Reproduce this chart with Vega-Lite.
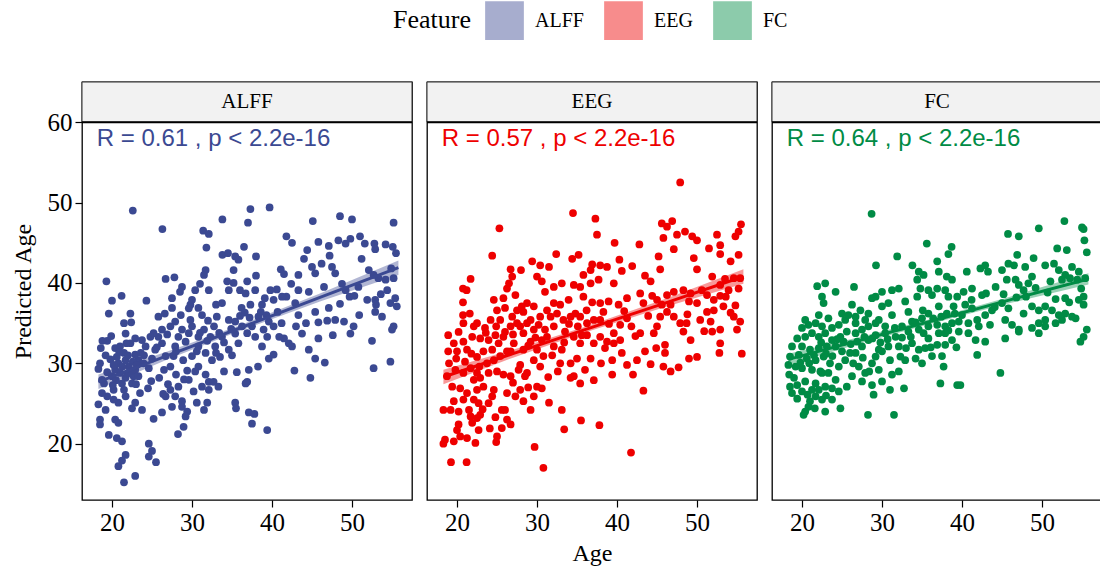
{
"$schema": "https://vega.github.io/schema/vega-lite/v6.json",
"padding": {"left": 10, "top": 1, "right": 0, "bottom": 4},
"background": "white",
"datasets": {
"alff": [{"Age":22.6,"Pred":49.0},{"Age":26.3,"Pred":46.7},{"Age":33.8,"Pred":47.9},{"Age":37.0,"Pred":47.5},{"Age":37.3,"Pred":49.2},{"Age":39.7,"Pred":49.4},{"Age":45.1,"Pred":47.7},{"Age":48.5,"Pred":48.3},{"Age":50.0,"Pred":47.9},{"Age":55.2,"Pred":47.5},{"Age":31.4,"Pred":46.5},{"Age":32.1,"Pred":46.1},{"Age":31.8,"Pred":44.4},{"Age":36.5,"Pred":44.5},{"Age":41.8,"Pred":45.8},{"Age":42.5,"Pred":45.0},{"Age":44.4,"Pred":44.1},{"Age":45.8,"Pred":45.1},{"Age":47.1,"Pred":44.6},{"Age":48.3,"Pred":45.3},{"Age":49.2,"Pred":44.9},{"Age":49.8,"Pred":45.5},{"Age":51.0,"Pred":45.8},{"Age":51.6,"Pred":44.9},{"Age":52.8,"Pred":44.9},{"Age":52.9,"Pred":44.2},{"Age":54.2,"Pred":44.8},{"Age":55.1,"Pred":44.5},{"Age":55.5,"Pred":43.7},{"Age":33.8,"Pred":43.5},{"Age":34.5,"Pred":43.7},{"Age":35.4,"Pred":43.3},{"Age":35.8,"Pred":42.9},{"Age":38.0,"Pred":43.3},{"Age":35.2,"Pred":41.6},{"Age":31.7,"Pred":41.6},{"Age":31.5,"Pred":41.0},{"Age":26.7,"Pred":40.5},{"Age":27.8,"Pred":40.7},{"Age":19.3,"Pred":40.2},{"Age":21.2,"Pred":38.4},{"Age":20.0,"Pred":37.8},{"Age":19.6,"Pred":36.2},{"Age":24.3,"Pred":37.8},{"Age":22.3,"Pred":36.2},{"Age":21.5,"Pred":35.0},{"Age":22.4,"Pred":35.1},{"Age":21.7,"Pred":33.7},{"Age":26.6,"Pred":36.2},{"Age":27.5,"Pred":38.1},{"Age":28.75,"Pred":39.5},{"Age":28.5,"Pred":38.9},{"Age":29.8,"Pred":37.3},{"Age":30.4,"Pred":39.1},{"Age":31.0,"Pred":39.9},{"Age":32.1,"Pred":39.1},{"Age":30.8,"Pred":36.9},{"Age":31.25,"Pred":36.0},{"Age":33.0,"Pred":37.3},{"Age":33.75,"Pred":37.5},{"Age":34.4,"Pred":40.2},{"Age":35.2,"Pred":40.0},{"Age":36.0,"Pred":39.1},{"Age":36.7,"Pred":38.7},{"Age":36.9,"Pred":40.2},{"Age":37.9,"Pred":39.1},{"Age":38.0,"Pred":40.9},{"Age":36.2,"Pred":36.9},{"Age":37.3,"Pred":37.3},{"Age":38.75,"Pred":37.3},{"Age":40.2,"Pred":37.9},{"Age":40.6,"Pred":39.2},{"Age":41.1,"Pred":41.7},{"Age":41.5,"Pred":41.1},{"Age":41.8,"Pred":38.3},{"Age":42.4,"Pred":39.9},{"Age":43.3,"Pred":41.0},{"Age":45.0,"Pred":42.0},{"Age":45.4,"Pred":41.2},{"Age":46.2,"Pred":42.4},{"Age":46.5,"Pred":39.5},{"Age":47.5,"Pred":42.0},{"Age":47.9,"Pred":41.2},{"Age":48.75,"Pred":39.9},{"Age":49.2,"Pred":39.1},{"Age":49.7,"Pred":38.3},{"Age":50.3,"Pred":38.4},{"Age":52.1,"Pred":41.6},{"Age":52.7,"Pred":41.0},{"Age":53.3,"Pred":40.6},{"Age":54.2,"Pred":40.4},{"Age":55.2,"Pred":40.6},{"Age":54.4,"Pred":39.1},{"Age":55.4,"Pred":38.1},{"Age":55.6,"Pred":37.1},{"Age":54.8,"Pred":37.5},{"Age":52.9,"Pred":37.9},{"Age":51.9,"Pred":37.9},{"Age":53.0,"Pred":37.3},{"Age":52.9,"Pred":36.4},{"Age":53.75,"Pred":35.8},{"Age":55.2,"Pred":34.6},{"Age":55.0,"Pred":34.2},{"Age":52.5,"Pred":32.8},{"Age":52.7,"Pred":29.4},{"Age":54.8,"Pred":30.2},{"Age":50.2,"Pred":34.6},{"Age":49.8,"Pred":33.7},{"Age":49.0,"Pred":35.2},{"Age":47.9,"Pred":35.4},{"Age":46.9,"Pred":35.3},{"Age":45.8,"Pred":35.1},{"Age":45.4,"Pred":36.4},{"Age":47.1,"Pred":36.9},{"Age":44.25,"Pred":35.0},{"Age":43.75,"Pred":33.7},{"Age":45.8,"Pred":33.1},{"Age":47.6,"Pred":33.5},{"Age":44.6,"Pred":31.7},{"Age":45.4,"Pred":30.6},{"Age":46.6,"Pred":30.1},{"Age":44.8,"Pred":28.2},{"Age":42.8,"Pred":29.1},{"Age":42.1,"Pred":32.5},{"Age":41.5,"Pred":33.1},{"Age":42.5,"Pred":32.1},{"Age":41.2,"Pred":35.0},{"Age":43.3,"Pred":36.0},{"Age":39.6,"Pred":35.2},{"Age":40.2,"Pred":34.6},{"Age":38.95,"Pred":34.2},{"Age":39.4,"Pred":33.3},{"Age":38.75,"Pred":32.1},{"Age":39.6,"Pred":30.6},{"Age":40.2,"Pred":31.1},{"Age":38.25,"Pred":29.6},{"Age":37.1,"Pred":29.2},{"Age":36.9,"Pred":27.7},{"Age":36.7,"Pred":27.5},{"Age":35.4,"Pred":25.1},{"Age":35.5,"Pred":24.4},{"Age":37.1,"Pred":23.9},{"Age":37.8,"Pred":23.7},{"Age":37.5,"Pred":22.5},{"Age":39.4,"Pred":21.7},{"Age":34.6,"Pred":31.7},{"Age":35.4,"Pred":33.7},{"Age":35.8,"Pred":32.5},{"Age":33.75,"Pred":33.3},{"Age":32.9,"Pred":32.1},{"Age":33.5,"Pred":30.8},{"Age":35.0,"Pred":31.0},{"Age":32.5,"Pred":30.4},{"Age":31.7,"Pred":31.3},{"Age":30.6,"Pred":31.5},{"Age":30.0,"Pred":30.9},{"Age":30.8,"Pred":29.6},{"Age":30.4,"Pred":29.0},{"Age":31.7,"Pred":28.6},{"Age":32.1,"Pred":27.7},{"Age":32.7,"Pred":27.7},{"Age":33.3,"Pred":27.1},{"Age":31.25,"Pred":27.1},{"Age":32.1,"Pred":26.7},{"Age":29.6,"Pred":27.95},{"Age":30.6,"Pred":25.1},{"Age":31.9,"Pred":25.1},{"Age":31.5,"Pred":24.2},{"Age":29.4,"Pred":24.0},{"Age":28.75,"Pred":24.6},{"Age":27.9,"Pred":25.9},{"Age":28.75,"Pred":25.3},{"Age":29.2,"Pred":23.4},{"Age":28.95,"Pred":22.1},{"Age":28.25,"Pred":21.2},{"Age":27.5,"Pred":24.6},{"Age":26.7,"Pred":25.9},{"Age":27.3,"Pred":26.7},{"Age":28.3,"Pred":27.1},{"Age":26.25,"Pred":23.9},{"Age":25.2,"Pred":23.1},{"Age":23.75,"Pred":24.2},{"Age":22.9,"Pred":25.1},{"Age":22.5,"Pred":24.4},{"Age":21.7,"Pred":25.9},{"Age":20.8,"Pred":25.1},{"Age":20.2,"Pred":25.5},{"Age":19.4,"Pred":25.9},{"Age":18.75,"Pred":26.3},{"Age":18.3,"Pred":24.9},{"Age":19.2,"Pred":24.2},{"Age":18.5,"Pred":23.0},{"Age":18.5,"Pred":22.4},{"Age":19.6,"Pred":21.1},{"Age":20.4,"Pred":23.0},{"Age":20.8,"Pred":22.6},{"Age":20.6,"Pred":20.7},{"Age":21.25,"Pred":20.3},{"Age":24.6,"Pred":20.0},{"Age":25.0,"Pred":19.1},{"Age":24.6,"Pred":18.4},{"Age":25.5,"Pred":17.7},{"Age":21.7,"Pred":18.6},{"Age":21.25,"Pred":17.9},{"Age":20.8,"Pred":17.2},{"Age":22.9,"Pred":16.0},{"Age":21.5,"Pred":15.2},{"Age":24.5,"Pred":26.9},{"Age":26.4,"Pred":26.2},{"Age":18.3,"Pred":29.3},{"Age":19.4,"Pred":28.9},{"Age":18.75,"Pred":27.95},{"Age":20.0,"Pred":28.4},{"Age":20.4,"Pred":29.2},{"Age":20.8,"Pred":30.0},{"Age":20.6,"Pred":30.8},{"Age":20.4,"Pred":31.9},{"Age":21.0,"Pred":32.1},{"Age":21.5,"Pred":31.3},{"Age":21.7,"Pred":30.4},{"Age":22.1,"Pred":29.6},{"Age":22.3,"Pred":29.0},{"Age":22.7,"Pred":28.4},{"Age":22.9,"Pred":29.2},{"Age":21.7,"Pred":28.2},{"Age":21.25,"Pred":27.5},{"Age":21.5,"Pred":26.7},{"Age":22.5,"Pred":27.5},{"Age":23.3,"Pred":28.4},{"Age":23.3,"Pred":30.4},{"Age":23.95,"Pred":30.0},{"Age":24.6,"Pred":29.4},{"Age":25.0,"Pred":30.6},{"Age":25.4,"Pred":31.7},{"Age":24.2,"Pred":32.1},{"Age":23.75,"Pred":32.9},{"Age":24.8,"Pred":33.3},{"Age":22.9,"Pred":33.1},{"Age":22.3,"Pred":32.5},{"Age":19.4,"Pred":32.8},{"Age":18.8,"Pred":32.8},{"Age":25.8,"Pred":33.3},{"Age":26.25,"Pred":32.5},{"Age":26.7,"Pred":30.9},{"Age":26.5,"Pred":29.2},{"Age":27.3,"Pred":29.6},{"Age":27.7,"Pred":30.9},{"Age":27.9,"Pred":32.1},{"Age":28.3,"Pred":33.3},{"Age":28.75,"Pred":34.2},{"Age":29.2,"Pred":32.7},{"Age":29.6,"Pred":33.75},{"Age":30.0,"Pred":34.6},{"Age":30.8,"Pred":33.3},{"Age":30.8,"Pred":32.1},{"Age":31.5,"Pred":34.2},{"Age":32.3,"Pred":33.3},{"Age":32.75,"Pred":34.6},{"Age":33.1,"Pred":35.8},{"Age":34.6,"Pred":35.4},{"Age":35.4,"Pred":35.2},{"Age":36.25,"Pred":34.6},{"Age":36.9,"Pred":33.75},{"Age":37.5,"Pred":34.6},{"Age":37.9,"Pred":33.3},{"Age":38.3,"Pred":35.8},{"Age":27.9,"Pred":35.2},{"Age":27.3,"Pred":34.6},{"Age":26.25,"Pred":34.2},{"Age":25.2,"Pred":33.75},{"Age":27.5,"Pred":36.9},{"Age":25.8,"Pred":35.8},{"Age":22.9,"Pred":31.1},{"Age":18.5,"Pred":30.0},{"Age":20.2,"Pred":26.7},{"Age":29.6,"Pred":36.85},{"Age":30.0,"Pred":37.9},{"Age":34.6,"Pred":39.1},{"Age":39.8,"Pred":39.1},{"Age":41.25,"Pred":38.3},{"Age":42.9,"Pred":37.5},{"Age":44.6,"Pred":38.9},{"Age":50.8,"Pred":39.5},{"Age":43.3,"Pred":39.1},{"Age":19.8,"Pred":30.5},{"Age":20.2,"Pred":29.8},{"Age":21.0,"Pred":28.8},{"Age":21.3,"Pred":29.6},{"Age":22.0,"Pred":31.0},{"Age":21.8,"Pred":32.5},{"Age":20.9,"Pred":31.4},{"Age":22.6,"Pred":30.2},{"Age":23.0,"Pred":27.4},{"Age":20.5,"Pred":27.9},{"Age":19.2,"Pred":31.0},{"Age":23.6,"Pred":31.3},{"Age":28.0,"Pred":31.5},{"Age":28.9,"Pred":30.4},{"Age":29.4,"Pred":29.1},{"Age":31.0,"Pred":33.8},{"Age":32.0,"Pred":35.3},{"Age":33.4,"Pred":33.8},{"Age":34.0,"Pred":32.6},{"Age":34.9,"Pred":34.3},{"Age":36.0,"Pred":35.9},{"Age":36.6,"Pred":36.3},{"Age":37.2,"Pred":35.7},{"Age":38.6,"Pred":36.4},{"Age":39.1,"Pred":38.1},{"Age":40.7,"Pred":36.4},{"Age":33.0,"Pred":31.3},{"Age":31.9,"Pred":32.8},{"Age":29.8,"Pred":35.4},{"Age":28.6,"Pred":36.0},{"Age":26.9,"Pred":33.6},{"Age":25.6,"Pred":32.0},{"Age":24.0,"Pred":31.0},{"Age":23.1,"Pred":29.8},{"Age":21.9,"Pred":28.7},{"Age":20.1,"Pred":27.3},{"Age":19.0,"Pred":27.5},{"Age":18.6,"Pred":31.9},{"Age":19.9,"Pred":33.4},{"Age":23.5,"Pred":26.3},{"Age":24.9,"Pred":27.8},{"Age":25.9,"Pred":28.2},{"Age":27.0,"Pred":27.4},{"Age":28.0,"Pred":28.6},{"Age":29.0,"Pred":28.0},{"Age":30.2,"Pred":26.5},{"Age":34.0,"Pred":29.0},{"Age":35.6,"Pred":28.9},{"Age":40.9,"Pred":33.3},{"Age":43.0,"Pred":34.6},{"Age":48.5,"Pred":37.4},{"Age":50.9,"Pred":36.0},{"Age":53.6,"Pred":38.6},{"Age":54.9,"Pred":41.8},{"Age":51.2,"Pred":43.0},{"Age":47.2,"Pred":43.4},{"Age":44.0,"Pred":43.0},{"Age":39.3,"Pred":36.0}],
"eeg": [{"Age":47.9,"Pred":52.5},{"Age":34.5,"Pred":48.7},{"Age":37.3,"Pred":48.0},{"Age":37.5,"Pred":46.0},{"Age":25.3,"Pred":46.8},{"Age":24.4,"Pred":43.4},{"Age":39.7,"Pred":45.0},{"Age":42.8,"Pred":44.8},{"Age":45.6,"Pred":47.4},{"Age":46.9,"Pred":47.7},{"Age":46.25,"Pred":47.0},{"Age":45.8,"Pred":45.6},{"Age":47.5,"Pred":46.0},{"Age":48.5,"Pred":46.4},{"Age":49.4,"Pred":45.8},{"Age":50.0,"Pred":45.3},{"Age":47.1,"Pred":44.2},{"Age":52.5,"Pred":46.0},{"Age":52.9,"Pred":44.7},{"Age":51.5,"Pred":44.3},{"Age":54.8,"Pred":45.8},{"Age":55.2,"Pred":46.4},{"Age":55.5,"Pred":47.3},{"Age":55.2,"Pred":43.5},{"Age":54.2,"Pred":42.7},{"Age":52.9,"Pred":43.6},{"Age":49.6,"Pred":43.1},{"Age":50.0,"Pred":41.7},{"Age":45.2,"Pred":43.3},{"Age":45.4,"Pred":41.7},{"Age":44.2,"Pred":40.2},{"Age":43.5,"Pred":40.9},{"Age":41.9,"Pred":42.1},{"Age":40.6,"Pred":41.5},{"Age":40.3,"Pred":42.9},{"Age":38.75,"Pred":42.0},{"Age":37.9,"Pred":42.2},{"Age":36.9,"Pred":42.3},{"Age":36.7,"Pred":41.6},{"Age":35.8,"Pred":41.0},{"Age":35.2,"Pred":43.5},{"Age":34.4,"Pred":43.0},{"Age":32.4,"Pred":43.6},{"Age":31.5,"Pred":42.0},{"Age":30.4,"Pred":42.2},{"Age":29.4,"Pred":42.7},{"Age":28.0,"Pred":41.6},{"Age":26.7,"Pred":41.7},{"Age":26.9,"Pred":40.8},{"Age":26.25,"Pred":39.3},{"Age":26.5,"Pred":39.96},{"Age":25.8,"Pred":38.1},{"Age":21.7,"Pred":40.5},{"Age":20.75,"Pred":39.3},{"Age":21.2,"Pred":39.1},{"Age":20.75,"Pred":37.6},{"Age":20.75,"Pred":36.0},{"Age":21.6,"Pred":36.2},{"Age":18.9,"Pred":33.5},{"Age":20.2,"Pred":33.9},{"Age":19.6,"Pred":32.5},{"Age":18.9,"Pred":31.5},{"Age":20.0,"Pred":31.5},{"Age":20.8,"Pred":32.7},{"Age":21.25,"Pred":31.7},{"Age":22.1,"Pred":34.6},{"Age":22.5,"Pred":35.0},{"Age":23.5,"Pred":34.4},{"Age":22.9,"Pred":33.1},{"Age":24.6,"Pred":37.9},{"Age":25.0,"Pred":36.6},{"Age":26.0,"Pred":36.9},{"Age":27.3,"Pred":38.5},{"Age":28.1,"Pred":37.1},{"Age":28.75,"Pred":37.5},{"Age":28.3,"Pred":36.4},{"Age":29.6,"Pred":37.1},{"Age":30.0,"Pred":40.8},{"Age":30.6,"Pred":40.2},{"Age":31.0,"Pred":38.9},{"Age":32.1,"Pred":39.5},{"Age":33.1,"Pred":39.96},{"Age":34.6,"Pred":39.75},{"Age":35.4,"Pred":39.5},{"Age":35.8,"Pred":38.3},{"Age":36.7,"Pred":39.96},{"Age":37.7,"Pred":40.4},{"Age":37.9,"Pred":37.5},{"Age":38.95,"Pred":37.7},{"Age":39.6,"Pred":39.96},{"Age":40.2,"Pred":37.3},{"Age":41.25,"Pred":38.1},{"Age":42.9,"Pred":38.7},{"Age":43.3,"Pred":37.5},{"Age":45.0,"Pred":37.9},{"Age":45.6,"Pred":37.3},{"Age":46.25,"Pred":38.5},{"Age":47.1,"Pred":38.9},{"Age":48.3,"Pred":39.1},{"Age":49.2,"Pred":38.7},{"Age":49.0,"Pred":37.7},{"Age":50.0,"Pred":37.5},{"Age":51.25,"Pred":38.5},{"Age":52.1,"Pred":37.9},{"Age":52.9,"Pred":39.75},{"Age":53.5,"Pred":40.5},{"Age":54.6,"Pred":40.6},{"Age":55.4,"Pred":40.6},{"Age":55.2,"Pred":39.3},{"Age":53.95,"Pred":39.1},{"Age":52.9,"Pred":38.4},{"Age":54.8,"Pred":37.2},{"Age":53.3,"Pred":37.1},{"Age":52.1,"Pred":36.6},{"Age":51.25,"Pred":36.4},{"Age":50.4,"Pred":35.4},{"Age":51.7,"Pred":35.2},{"Age":52.9,"Pred":34.2},{"Age":51.9,"Pred":33.96},{"Age":54.6,"Pred":35.8},{"Age":55.4,"Pred":35.2},{"Age":55.0,"Pred":34.2},{"Age":55.6,"Pred":31.2},{"Age":52.9,"Pred":32.5},{"Age":52.8,"Pred":31.3},{"Age":50.0,"Pred":30.8},{"Age":49.0,"Pred":30.6},{"Age":49.2,"Pred":32.9},{"Age":48.3,"Pred":33.96},{"Age":47.9,"Pred":35.0},{"Age":47.1,"Pred":35.8},{"Age":46.25,"Pred":36.4},{"Age":45.4,"Pred":35.8},{"Age":45.0,"Pred":34.6},{"Age":44.6,"Pred":33.75},{"Age":46.0,"Pred":32.3},{"Age":46.0,"Pred":31.3},{"Age":45.8,"Pred":29.6},{"Age":46.7,"Pred":29.0},{"Age":47.7,"Pred":29.5},{"Age":44.9,"Pred":31.9},{"Age":43.5,"Pred":31.5},{"Age":42.5,"Pred":30.4},{"Age":41.25,"Pred":29.8},{"Age":42.3,"Pred":33.4},{"Age":42.9,"Pred":33.75},{"Age":41.25,"Pred":35.6},{"Age":40.4,"Pred":34.8},{"Age":39.6,"Pred":33.75},{"Age":38.75,"Pred":32.7},{"Age":39.6,"Pred":32.5},{"Age":40.4,"Pred":32.9},{"Age":39.4,"Pred":30.4},{"Age":39.4,"Pred":28.6},{"Age":38.5,"Pred":31.9},{"Age":37.9,"Pred":33.3},{"Age":37.1,"Pred":32.5},{"Age":36.7,"Pred":30.6},{"Age":36.25,"Pred":33.5},{"Age":35.4,"Pred":32.5},{"Age":35.0,"Pred":30.6},{"Age":34.2,"Pred":30.0},{"Age":34.6,"Pred":33.3},{"Age":33.5,"Pred":33.96},{"Age":32.9,"Pred":30.0},{"Age":33.1,"Pred":31.7},{"Age":32.1,"Pred":34.6},{"Age":31.25,"Pred":33.3},{"Age":30.8,"Pred":30.9},{"Age":30.4,"Pred":29.6},{"Age":29.6,"Pred":30.4},{"Age":29.2,"Pred":32.7},{"Age":28.3,"Pred":33.75},{"Age":27.5,"Pred":35.0},{"Age":27.1,"Pred":32.5},{"Age":26.7,"Pred":31.5},{"Age":27.9,"Pred":29.8},{"Age":28.5,"Pred":28.4},{"Age":28.75,"Pred":28.8},{"Age":27.7,"Pred":29.2},{"Age":30.0,"Pred":27.1},{"Age":29.6,"Pred":25.9},{"Age":30.6,"Pred":26.9},{"Age":31.5,"Pred":25.1},{"Age":33.1,"Pred":24.2},{"Age":33.4,"Pred":21.8},{"Age":35.5,"Pred":22.9},{"Age":37.8,"Pred":22.3},{"Age":34.6,"Pred":28.4},{"Age":35.4,"Pred":27.5},{"Age":37.1,"Pred":27.9},{"Age":34.2,"Pred":28.2},{"Age":43.3,"Pred":26.6},{"Age":41.75,"Pred":18.9},{"Age":29.7,"Pred":19.6},{"Age":30.8,"Pred":17.0},{"Age":19.25,"Pred":17.7},{"Age":21.2,"Pred":17.7},{"Age":18.3,"Pred":20.0},{"Age":18.5,"Pred":20.5},{"Age":19.6,"Pred":20.3},{"Age":20.4,"Pred":20.9},{"Age":21.25,"Pred":20.7},{"Age":22.3,"Pred":20.1},{"Age":22.7,"Pred":21.7},{"Age":21.9,"Pred":22.6},{"Age":20.2,"Pred":22.4},{"Age":20.0,"Pred":21.7},{"Age":21.7,"Pred":23.4},{"Age":22.5,"Pred":23.2},{"Age":22.9,"Pred":23.6},{"Age":24.1,"Pred":21.9},{"Age":25.0,"Pred":20.9},{"Age":24.9,"Pred":20.2},{"Age":25.6,"Pred":21.95},{"Age":26.7,"Pred":22.4},{"Age":26.25,"Pred":23.0},{"Age":25.6,"Pred":24.2},{"Age":26.0,"Pred":24.2},{"Age":23.95,"Pred":25.05},{"Age":22.7,"Pred":25.05},{"Age":21.5,"Pred":24.2},{"Age":20.2,"Pred":24.0},{"Age":18.3,"Pred":24.2},{"Age":19.2,"Pred":24.2},{"Age":20.8,"Pred":25.5},{"Age":22.1,"Pred":25.5},{"Age":21.25,"Pred":26.3},{"Age":22.5,"Pred":26.7},{"Age":23.3,"Pred":27.1},{"Age":24.6,"Pred":26.7},{"Age":24.4,"Pred":25.9},{"Age":26.25,"Pred":26.3},{"Age":27.3,"Pred":25.9},{"Age":28.3,"Pred":25.3},{"Age":29.2,"Pred":24.2},{"Age":27.9,"Pred":26.7},{"Age":19.4,"Pred":27.1},{"Age":20.4,"Pred":26.9},{"Age":18.75,"Pred":28.4},{"Age":19.8,"Pred":29.2},{"Age":20.8,"Pred":28.8},{"Age":21.7,"Pred":29.4},{"Age":22.5,"Pred":28.8},{"Age":22.1,"Pred":27.95},{"Age":22.9,"Pred":28.2},{"Age":23.95,"Pred":28.8},{"Age":25.0,"Pred":29.0},{"Age":25.8,"Pred":28.6},{"Age":26.7,"Pred":28.4},{"Age":23.75,"Pred":30.0},{"Age":24.6,"Pred":30.4},{"Age":25.4,"Pred":30.9},{"Age":26.25,"Pred":31.5},{"Age":22.5,"Pred":30.8},{"Age":23.3,"Pred":31.5},{"Age":24.4,"Pred":31.7},{"Age":25.2,"Pred":32.5},{"Age":25.8,"Pred":33.3},{"Age":24.8,"Pred":33.5},{"Age":23.95,"Pred":32.9},{"Age":26.7,"Pred":34.6},{"Age":27.9,"Pred":34.6},{"Age":28.75,"Pred":35.0},{"Age":29.6,"Pred":34.2},{"Age":30.2,"Pred":34.8},{"Age":30.6,"Pred":32.9},{"Age":31.7,"Pred":35.8},{"Age":32.5,"Pred":36.2},{"Age":33.3,"Pred":35.4},{"Age":34.2,"Pred":35.8},{"Age":34.8,"Pred":36.2},{"Age":35.4,"Pred":35.8},{"Age":36.25,"Pred":35.0},{"Age":37.1,"Pred":35.4},{"Age":37.9,"Pred":35.4},{"Age":32.9,"Pred":37.3},{"Age":32.1,"Pred":37.5},{"Age":31.25,"Pred":36.6},{"Age":30.4,"Pred":35.8},{"Age":33.95,"Pred":37.9},{"Age":29.2,"Pred":35.4},{"Age":27.5,"Pred":36.6},{"Age":26.9,"Pred":35.8},{"Age":25.4,"Pred":35.4},{"Age":24.2,"Pred":35.4},{"Age":21.9,"Pred":33.3},{"Age":20.8,"Pred":35.0},{"Age":35.6,"Pred":33.5},{"Age":30.0,"Pred":31.7},{"Age":28.3,"Pred":31.7},{"Age":32.1,"Pred":32.1},{"Age":19.0,"Pred":30.0},{"Age":19.9,"Pred":30.6},{"Age":21.0,"Pred":30.2},{"Age":21.8,"Pred":31.2},{"Age":22.8,"Pred":29.6},{"Age":23.6,"Pred":33.8},{"Age":24.9,"Pred":34.6},{"Age":26.0,"Pred":33.9},{"Age":27.0,"Pred":33.6},{"Age":28.9,"Pred":32.2},{"Age":29.8,"Pred":33.2},{"Age":31.0,"Pred":34.2},{"Age":31.9,"Pred":31.0},{"Age":33.4,"Pred":32.6},{"Age":34.0,"Pred":34.9},{"Age":35.1,"Pred":34.6},{"Age":36.2,"Pred":36.6},{"Age":36.9,"Pred":37.6},{"Age":38.3,"Pred":36.4},{"Age":39.0,"Pred":34.9},{"Age":40.9,"Pred":36.5},{"Age":41.8,"Pred":34.6},{"Age":43.9,"Pred":35.9},{"Age":44.4,"Pred":38.4},{"Age":46.7,"Pred":37.3},{"Age":48.8,"Pred":36.1},{"Age":50.6,"Pred":39.1},{"Age":51.9,"Pred":40.8},{"Age":53.6,"Pred":38.3},{"Age":54.2,"Pred":36.3},{"Age":19.6,"Pred":25.3},{"Age":23.2,"Pred":24.3},{"Age":24.8,"Pred":23.3},{"Age":27.0,"Pred":27.6},{"Age":28.9,"Pred":27.0},{"Age":31.4,"Pred":28.3},{"Age":32.6,"Pred":29.0},{"Age":36.0,"Pred":29.2},{"Age":38.0,"Pred":30.0},{"Age":40.6,"Pred":31.3},{"Age":42.0,"Pred":28.6},{"Age":44.2,"Pred":29.9},{"Age":48.7,"Pred":35.0},{"Age":50.9,"Pred":34.0}],
"fc": [{"Age":28.7,"Pred":48.6},{"Age":52.8,"Pred":47.7},{"Age":55.0,"Pred":46.9},{"Age":55.2,"Pred":46.7},{"Age":49.6,"Pred":46.8},{"Age":45.75,"Pred":46.1},{"Age":47.1,"Pred":45.8},{"Age":55.3,"Pred":45.3},{"Age":55.6,"Pred":43.8},{"Age":51.9,"Pred":44.3},{"Age":53.1,"Pred":44.1},{"Age":35.6,"Pred":44.9},{"Age":38.7,"Pred":44.5},{"Age":38.3,"Pred":43.6},{"Age":31.9,"Pred":43.3},{"Age":29.25,"Pred":42.2},{"Age":33.8,"Pred":42.2},{"Age":36.9,"Pred":42.7},{"Age":37.1,"Pred":41.4},{"Age":34.6,"Pred":41.4},{"Age":35.2,"Pred":41.0},{"Age":34.4,"Pred":40.4},{"Age":38.1,"Pred":40.8},{"Age":38.75,"Pred":40.4},{"Age":40.6,"Pred":41.4},{"Age":42.3,"Pred":41.8},{"Age":42.9,"Pred":42.2},{"Age":43.25,"Pred":41.4},{"Age":45.0,"Pred":41.6},{"Age":45.8,"Pred":42.4},{"Age":46.9,"Pred":43.5},{"Age":46.5,"Pred":42.2},{"Age":47.9,"Pred":42.0},{"Age":48.95,"Pred":43.1},{"Age":50.4,"Pred":42.2},{"Age":51.5,"Pred":42.4},{"Age":52.1,"Pred":41.6},{"Age":52.9,"Pred":41.0},{"Age":53.75,"Pred":42.0},{"Age":54.6,"Pred":41.4},{"Age":55.4,"Pred":40.6},{"Age":54.4,"Pred":40.4},{"Age":53.5,"Pred":40.6},{"Age":52.5,"Pred":40.4},{"Age":51.05,"Pred":40.2},{"Age":48.75,"Pred":40.8},{"Age":48.3,"Pred":39.96},{"Age":47.1,"Pred":39.75},{"Age":47.7,"Pred":39.1},{"Age":46.7,"Pred":40.4},{"Age":45.6,"Pred":40.4},{"Age":44.2,"Pred":39.5},{"Age":42.5,"Pred":38.5},{"Age":41.25,"Pred":39.3},{"Age":40.2,"Pred":38.9},{"Age":39.4,"Pred":38.3},{"Age":38.3,"Pred":38.3},{"Age":37.9,"Pred":39.1},{"Age":36.9,"Pred":39.3},{"Age":36.25,"Pred":38.5},{"Age":35.8,"Pred":39.1},{"Age":34.8,"Pred":39.3},{"Age":34.4,"Pred":38.3},{"Age":32.9,"Pred":37.7},{"Age":32.1,"Pred":39.3},{"Age":31.25,"Pred":39.1},{"Age":30.0,"Pred":38.9},{"Age":29.2,"Pred":38.3},{"Age":28.75,"Pred":38.1},{"Age":26.5,"Pred":39.5},{"Age":24.2,"Pred":38.9},{"Age":22.9,"Pred":39.96},{"Age":21.9,"Pred":39.6},{"Age":22.5,"Pred":38.3},{"Age":22.7,"Pred":37.5},{"Age":26.25,"Pred":37.3},{"Age":27.3,"Pred":36.6},{"Age":30.0,"Pred":37.1},{"Age":30.8,"Pred":37.5},{"Age":31.25,"Pred":36.0},{"Age":33.3,"Pred":36.4},{"Age":33.75,"Pred":35.2},{"Age":35.0,"Pred":35.6},{"Age":35.8,"Pred":36.2},{"Age":37.1,"Pred":37.1},{"Age":38.1,"Pred":36.2},{"Age":38.95,"Pred":37.1},{"Age":40.0,"Pred":36.0},{"Age":41.25,"Pred":36.85},{"Age":41.9,"Pred":35.4},{"Age":42.9,"Pred":36.0},{"Age":43.75,"Pred":36.6},{"Age":45.0,"Pred":37.5},{"Age":45.8,"Pred":36.85},{"Age":45.4,"Pred":35.4},{"Age":46.25,"Pred":34.8},{"Age":47.1,"Pred":34.2},{"Age":47.7,"Pred":36.2},{"Age":48.75,"Pred":37.1},{"Age":49.6,"Pred":36.6},{"Age":50.4,"Pred":37.1},{"Age":51.25,"Pred":36.6},{"Age":52.1,"Pred":36.0},{"Age":52.9,"Pred":36.2},{"Age":53.75,"Pred":35.8},{"Age":49.6,"Pred":35.0},{"Age":50.4,"Pred":34.6},{"Age":49.6,"Pred":33.75},{"Age":48.75,"Pred":34.4},{"Age":52.9,"Pred":38.1},{"Age":55.2,"Pred":38.3},{"Age":55.2,"Pred":37.3},{"Age":54.9,"Pred":39.3},{"Age":55.6,"Pred":34.2},{"Age":54.8,"Pred":32.7},{"Age":55.2,"Pred":33.3},{"Age":44.8,"Pred":28.8},{"Age":41.9,"Pred":31.05},{"Age":42.9,"Pred":32.7},{"Age":41.7,"Pred":32.9},{"Age":40.8,"Pred":33.75},{"Age":39.6,"Pred":33.96},{"Age":38.75,"Pred":32.9},{"Age":37.9,"Pred":32.3},{"Age":36.9,"Pred":32.3},{"Age":35.8,"Pred":33.1},{"Age":35.4,"Pred":31.9},{"Age":34.6,"Pred":31.7},{"Age":33.75,"Pred":32.5},{"Age":34.2,"Pred":30.6},{"Age":35.0,"Pred":30.0},{"Age":36.25,"Pred":30.9},{"Age":37.5,"Pred":30.9},{"Age":37.7,"Pred":29.6},{"Age":37.3,"Pred":27.5},{"Age":39.4,"Pred":27.3},{"Age":39.8,"Pred":27.3},{"Age":32.9,"Pred":30.4},{"Age":32.1,"Pred":29.0},{"Age":31.25,"Pred":28.6},{"Age":32.75,"Pred":26.9},{"Age":31.0,"Pred":26.7},{"Age":31.5,"Pred":23.6},{"Age":28.25,"Pred":23.6},{"Age":30.0,"Pred":27.75},{"Age":29.6,"Pred":29.2},{"Age":28.75,"Pred":30.0},{"Age":29.2,"Pred":30.85},{"Age":30.0,"Pred":31.5},{"Age":30.8,"Pred":32.1},{"Age":32.1,"Pred":32.1},{"Age":31.7,"Pred":33.3},{"Age":30.4,"Pred":33.75},{"Age":29.2,"Pred":33.5},{"Age":28.3,"Pred":32.9},{"Age":27.5,"Pred":32.1},{"Age":26.7,"Pred":31.3},{"Age":27.1,"Pred":29.6},{"Age":27.9,"Pred":28.8},{"Age":28.75,"Pred":27.3},{"Age":28.95,"Pred":26.1},{"Age":27.5,"Pred":27.75},{"Age":26.25,"Pred":28.4},{"Age":25.6,"Pred":27.1},{"Age":24.8,"Pred":24.4},{"Age":22.9,"Pred":24.0},{"Age":22.5,"Pred":25.5},{"Age":21.7,"Pred":25.9},{"Age":20.8,"Pred":24.6},{"Age":20.4,"Pred":24.0},{"Age":20.2,"Pred":23.6},{"Age":21.0,"Pred":25.3},{"Age":21.25,"Pred":26.7},{"Age":20.0,"Pred":26.5},{"Age":18.75,"Pred":26.3},{"Age":18.5,"Pred":27.1},{"Age":19.4,"Pred":27.3},{"Age":20.4,"Pred":27.75},{"Age":21.7,"Pred":27.5},{"Age":22.9,"Pred":27.1},{"Age":23.75,"Pred":26.9},{"Age":24.2,"Pred":27.95},{"Age":23.3,"Pred":28.8},{"Age":22.3,"Pred":29.0},{"Age":21.25,"Pred":29.2},{"Age":20.0,"Pred":29.4},{"Age":19.2,"Pred":29.6},{"Age":18.3,"Pred":29.8},{"Age":18.5,"Pred":30.85},{"Age":19.6,"Pred":31.05},{"Age":20.6,"Pred":30.6},{"Age":21.7,"Pred":30.4},{"Age":22.7,"Pred":30.85},{"Age":23.5,"Pred":30.0},{"Age":24.6,"Pred":29.6},{"Age":25.4,"Pred":30.4},{"Age":26.0,"Pred":31.3},{"Age":25.0,"Pred":31.5},{"Age":24.2,"Pred":32.1},{"Age":23.1,"Pred":32.1},{"Age":22.1,"Pred":31.9},{"Age":21.0,"Pred":31.7},{"Age":20.0,"Pred":32.1},{"Age":18.75,"Pred":32.1},{"Age":19.4,"Pred":33.1},{"Age":20.4,"Pred":33.3},{"Age":21.25,"Pred":33.75},{"Age":22.1,"Pred":33.3},{"Age":22.9,"Pred":33.75},{"Age":23.75,"Pred":32.9},{"Age":24.8,"Pred":33.3},{"Age":25.6,"Pred":33.96},{"Age":26.7,"Pred":33.75},{"Age":27.5,"Pred":34.2},{"Age":28.3,"Pred":34.6},{"Age":29.2,"Pred":35.0},{"Age":27.9,"Pred":35.4},{"Age":26.7,"Pred":35.0},{"Age":25.4,"Pred":35.4},{"Age":24.6,"Pred":34.8},{"Age":23.75,"Pred":34.4},{"Age":22.5,"Pred":34.6},{"Age":21.7,"Pred":35.0},{"Age":20.8,"Pred":34.8},{"Age":20.0,"Pred":34.4},{"Age":20.4,"Pred":35.4},{"Age":22.1,"Pred":36.0},{"Age":23.3,"Pred":35.6},{"Age":25.0,"Pred":36.2},{"Age":25.8,"Pred":36.0},{"Age":26.7,"Pred":35.8},{"Age":28.3,"Pred":36.2},{"Age":29.6,"Pred":35.4},{"Age":30.4,"Pred":34.6},{"Age":32.5,"Pred":34.6},{"Age":33.3,"Pred":33.96},{"Age":34.6,"Pred":34.2},{"Age":35.8,"Pred":34.6},{"Age":36.9,"Pred":34.8},{"Age":37.9,"Pred":34.6},{"Age":38.75,"Pred":35.0},{"Age":39.6,"Pred":35.2},{"Age":40.8,"Pred":35.0},{"Age":42.1,"Pred":34.6},{"Age":43.5,"Pred":34.8},{"Age":45.4,"Pred":33.1},{"Age":47.1,"Pred":33.96},{"Age":51.7,"Pred":35.0},{"Age":52.5,"Pred":35.4},{"Age":54.2,"Pred":35.6},{"Age":50.4,"Pred":35.4},{"Age":37.1,"Pred":33.75},{"Age":37.9,"Pred":33.75},{"Age":35.2,"Pred":33.75},{"Age":32.3,"Pred":30.85},{"Age":31.0,"Pred":30.4},{"Age":29.6,"Pred":31.7},{"Age":24.6,"Pred":26.5},{"Age":23.75,"Pred":25.5},{"Age":22.1,"Pred":26.7},{"Age":22.5,"Pred":28.8},{"Age":18.4,"Pred":28.6},{"Age":19.0,"Pred":28.2},{"Age":19.8,"Pred":30.1},{"Age":20.9,"Pred":30.0},{"Age":21.5,"Pred":31.0},{"Age":22.4,"Pred":32.6},{"Age":23.0,"Pred":31.2},{"Age":23.8,"Pred":30.9},{"Age":24.4,"Pred":33.0},{"Age":25.2,"Pred":32.7},{"Age":26.1,"Pred":32.4},{"Age":26.9,"Pred":32.7},{"Age":27.8,"Pred":33.3},{"Age":28.8,"Pred":33.1},{"Age":29.8,"Pred":32.6},{"Age":30.7,"Pred":33.0},{"Age":31.6,"Pred":34.4},{"Age":32.5,"Pred":33.2},{"Age":33.6,"Pred":33.3},{"Age":34.2,"Pred":35.1},{"Age":35.1,"Pred":36.6},{"Age":36.4,"Pred":35.6},{"Age":37.4,"Pred":35.8},{"Age":38.3,"Pred":34.1},{"Age":39.1,"Pred":36.2},{"Age":40.4,"Pred":37.3},{"Age":41.2,"Pred":37.9},{"Age":43.0,"Pred":38.7},{"Age":44.1,"Pred":37.0},{"Age":45.2,"Pred":38.6},{"Age":46.8,"Pred":38.2},{"Age":48.0,"Pred":38.3},{"Age":49.2,"Pred":39.4},{"Age":50.7,"Pred":38.8},{"Age":51.7,"Pred":38.0},{"Age":53.4,"Pred":37.6},{"Age":54.6,"Pred":37.9},{"Age":19.4,"Pred":25.6},{"Age":20.7,"Pred":26.1},{"Age":21.6,"Pred":24.4},{"Age":23.0,"Pred":26.0},{"Age":26.4,"Pred":30.0},{"Age":27.6,"Pred":30.7},{"Age":28.4,"Pred":29.0},{"Age":33.0,"Pred":31.9},{"Age":36.1,"Pred":32.0},{"Age":39.3,"Pred":32.0}],
"fit": [
{"Feature":"ALFF","Age":18.3,"fit":27.7,"lo":26.8,"hi":28.6},
{"Feature":"ALFF","Age":27,"fit":31.0,"lo":30.5,"hi":31.5},
{"Feature":"ALFF","Age":36,"fit":34.4,"lo":34.05,"hi":34.75},
{"Feature":"ALFF","Age":46,"fit":38.2,"lo":37.7,"hi":38.7},
{"Feature":"ALFF","Age":55.8,"fit":41.9,"lo":41.0,"hi":42.8},
{"Feature":"EEG","Age":18.3,"fit":28.3,"lo":27.4,"hi":29.2},
{"Feature":"EEG","Age":27,"fit":31.2,"lo":30.7,"hi":31.7},
{"Feature":"EEG","Age":36,"fit":34.2,"lo":33.85,"hi":34.55},
{"Feature":"EEG","Age":46,"fit":37.5,"lo":37.0,"hi":38.0},
{"Feature":"EEG","Age":55.8,"fit":40.8,"lo":39.9,"hi":41.7},
{"Feature":"FC","Age":18.3,"fit":30.5,"lo":29.8,"hi":31.2},
{"Feature":"FC","Age":27,"fit":32.8,"lo":32.4,"hi":33.2},
{"Feature":"FC","Age":36,"fit":35.2,"lo":34.9,"hi":35.5},
{"Feature":"FC","Age":46,"fit":37.9,"lo":37.5,"hi":38.3},
{"Feature":"FC","Age":55.8,"fit":40.5,"lo":39.8,"hi":41.2}],
"labels": [
{"Feature":"ALFF","lab":"R = 0.61 , p < 2.2e-16"},
{"Feature":"EEG","lab":"R = 0.57 , p < 2.2e-16"},
{"Feature":"FC","lab":"R = 0.64 , p < 2.2e-16"}]
},
"spacing": 11,
"hconcat": [
{"width": 330, "height": 418, "layer": [
 {"data": {"name": "alff"}, "mark": {"type": "circle", "size": 60, "opacity": 1},
  "encoding": {"x": {"field": "Age", "type": "quantitative", "scale": {"domain": [16.25, 57.5], "nice": false, "zero": false}, "axis": {"title": null, "values": [20,30,40,50]}},
   "y": {"field": "Pred", "type": "quantitative", "scale": {"domain": [13, 65], "nice": false, "zero": false}, "axis": {"title": "Predicted Age", "values": [20,30,40,50,60]}},
   "color": {"datum": "ALFF", "type": "nominal", "title": "Feature", "scale": {"domain": ["ALFF","EEG","FC"], "range": ["#3B4992","#EE0000","#008B45"]}}}},
 {"data": {"name": "fit"}, "transform": [{"filter": "datum.Feature == 'ALFF'"}], "mark": {"type": "area", "opacity": 0.4},
  "encoding": {"x": {"field": "Age", "type": "quantitative"}, "y": {"field": "lo", "type": "quantitative", "title": "Predicted Age"}, "y2": {"field": "hi"}, "color": {"datum": "ALFF", "type": "nominal", "title": "Feature"}}},
 {"data": {"name": "fit"}, "transform": [{"filter": "datum.Feature == 'ALFF'"}], "mark": {"type": "line", "strokeWidth": 3},
  "encoding": {"x": {"field": "Age", "type": "quantitative"}, "y": {"field": "fit", "type": "quantitative", "title": "Predicted Age"}, "color": {"datum": "ALFF", "type": "nominal", "title": "Feature"}}},
 {"data": {"name": "labels"}, "transform": [{"filter": "datum.Feature == 'ALFF'"}], "mark": {"type": "rect", "fill": "#F2F2F2", "stroke": "#333333", "strokeWidth": 1},
  "encoding": {"x": {"value": 0}, "x2": {"value": "width"}, "y": {"datum": 65}, "y2": {"datum": 60}}},
 {"data": {"name": "labels"}, "transform": [{"filter": "datum.Feature == 'ALFF'"}], "mark": {"type": "rule", "color": "black", "strokeWidth": 2},
  "encoding": {"y": {"datum": 60}}},
 {"data": {"name": "labels"}, "transform": [{"filter": "datum.Feature == 'ALFF'"}], "mark": {"type": "text", "font": "Liberation Serif", "fontSize": 21, "baseline": "middle", "color": "black"},
  "encoding": {"y": {"datum": 62.5}, "text": {"field": "Feature"}}},
 {"data": {"name": "labels"}, "transform": [{"filter": "datum.Feature == 'ALFF'"}], "mark": {"type": "text", "font": "Liberation Sans", "fontSize": 24, "align": "left", "baseline": "alphabetic"},
  "encoding": {"x": {"datum": 18.1}, "y": {"datum": 57.0}, "text": {"field": "lab"}, "color": {"datum": "ALFF", "type": "nominal", "title": "Feature"}}}
]},
{"width": 330, "height": 418, "layer": [
 {"data": {"name": "eeg"}, "mark": {"type": "circle", "size": 60, "opacity": 1},
  "encoding": {"x": {"field": "Age", "type": "quantitative", "scale": {"domain": [16.25, 57.5], "nice": false, "zero": false}, "axis": {"title": "Age", "values": [20,30,40,50]}},
   "y": {"field": "Pred", "type": "quantitative", "scale": {"domain": [13, 65], "nice": false, "zero": false}, "axis": null},
   "color": {"datum": "EEG", "type": "nominal", "title": "Feature"}}},
 {"data": {"name": "fit"}, "transform": [{"filter": "datum.Feature == 'EEG'"}], "mark": {"type": "area", "opacity": 0.4},
  "encoding": {"x": {"field": "Age", "type": "quantitative", "title": "Age"}, "y": {"field": "lo", "type": "quantitative", "axis": null}, "y2": {"field": "hi"}, "color": {"datum": "EEG", "type": "nominal", "title": "Feature"}}},
 {"data": {"name": "fit"}, "transform": [{"filter": "datum.Feature == 'EEG'"}], "mark": {"type": "line", "strokeWidth": 3},
  "encoding": {"x": {"field": "Age", "type": "quantitative", "title": "Age"}, "y": {"field": "fit", "type": "quantitative", "axis": null}, "color": {"datum": "EEG", "type": "nominal", "title": "Feature"}}},
 {"data": {"name": "labels"}, "transform": [{"filter": "datum.Feature == 'EEG'"}], "mark": {"type": "rect", "fill": "#F2F2F2", "stroke": "#333333", "strokeWidth": 1},
  "encoding": {"x": {"value": 0}, "x2": {"value": "width"}, "y": {"datum": 65, "axis": null}, "y2": {"datum": 60}}},
 {"data": {"name": "labels"}, "transform": [{"filter": "datum.Feature == 'EEG'"}], "mark": {"type": "rule", "color": "black", "strokeWidth": 2},
  "encoding": {"y": {"datum": 60, "axis": null}}},
 {"data": {"name": "labels"}, "transform": [{"filter": "datum.Feature == 'EEG'"}], "mark": {"type": "text", "font": "Liberation Serif", "fontSize": 21, "baseline": "middle", "color": "black"},
  "encoding": {"y": {"datum": 62.5, "axis": null}, "text": {"field": "Feature"}}},
 {"data": {"name": "labels"}, "transform": [{"filter": "datum.Feature == 'EEG'"}], "mark": {"type": "text", "font": "Liberation Sans", "fontSize": 24, "align": "left", "baseline": "alphabetic"},
  "encoding": {"x": {"datum": 18.1}, "y": {"datum": 57.0, "axis": null}, "text": {"field": "lab"}, "color": {"datum": "EEG", "type": "nominal", "title": "Feature"}}}
]},
{"width": 330, "height": 418, "layer": [
 {"data": {"name": "fc"}, "mark": {"type": "circle", "size": 60, "opacity": 1},
  "encoding": {"x": {"field": "Age", "type": "quantitative", "scale": {"domain": [16.25, 57.5], "nice": false, "zero": false}, "axis": {"title": null, "values": [20,30,40,50]}},
   "y": {"field": "Pred", "type": "quantitative", "scale": {"domain": [13, 65], "nice": false, "zero": false}, "axis": null},
   "color": {"datum": "FC", "type": "nominal", "title": "Feature"}}},
 {"data": {"name": "fit"}, "transform": [{"filter": "datum.Feature == 'FC'"}], "mark": {"type": "area", "opacity": 0.4},
  "encoding": {"x": {"field": "Age", "type": "quantitative"}, "y": {"field": "lo", "type": "quantitative", "axis": null}, "y2": {"field": "hi"}, "color": {"datum": "FC", "type": "nominal", "title": "Feature"}}},
 {"data": {"name": "fit"}, "transform": [{"filter": "datum.Feature == 'FC'"}], "mark": {"type": "line", "strokeWidth": 3},
  "encoding": {"x": {"field": "Age", "type": "quantitative"}, "y": {"field": "fit", "type": "quantitative", "axis": null}, "color": {"datum": "FC", "type": "nominal", "title": "Feature"}}},
 {"data": {"name": "labels"}, "transform": [{"filter": "datum.Feature == 'FC'"}], "mark": {"type": "rect", "fill": "#F2F2F2", "stroke": "#333333", "strokeWidth": 1},
  "encoding": {"x": {"value": 0}, "x2": {"value": "width"}, "y": {"datum": 65, "axis": null}, "y2": {"datum": 60}}},
 {"data": {"name": "labels"}, "transform": [{"filter": "datum.Feature == 'FC'"}], "mark": {"type": "rule", "color": "black", "strokeWidth": 2},
  "encoding": {"y": {"datum": 60, "axis": null}}},
 {"data": {"name": "labels"}, "transform": [{"filter": "datum.Feature == 'FC'"}], "mark": {"type": "text", "font": "Liberation Serif", "fontSize": 21, "baseline": "middle", "color": "black"},
  "encoding": {"y": {"datum": 62.5, "axis": null}, "text": {"field": "Feature"}}},
 {"data": {"name": "labels"}, "transform": [{"filter": "datum.Feature == 'FC'"}], "mark": {"type": "text", "font": "Liberation Sans", "fontSize": 24, "align": "left", "baseline": "alphabetic"},
  "encoding": {"x": {"datum": 18.1}, "y": {"datum": 57.0, "axis": null}, "text": {"field": "lab"}, "color": {"datum": "FC", "type": "nominal", "title": "Feature"}}}
]}
],
"config": {
 "view": {"stroke": "black", "strokeWidth": 1.3},
 "axis": {"grid": false, "domain": false, "tickColor": "black", "tickWidth": 1.2, "tickSize": 7,
   "labelFont": "Liberation Serif", "labelFontSize": 25, "labelColor": "black", "labelPadding": 3,
   "titleFont": "Liberation Serif", "titleFontSize": 24, "titleFontWeight": "normal", "titleColor": "black"},
 "axisY": {"titlePadding": 12},
 "axisX": {"titlePadding": 6, "labelPadding": 3},
 "legend": {"orient": "none", "legendX": 311, "legendY": -81, "direction": "horizontal", "titleOrient": "left", "symbolType": "square", "symbolSize": 1500, "symbolOpacity": 0.45, "symbolStrokeWidth": 0,
   "labelFont": "Liberation Serif", "labelFontSize": 20, "labelColor": "black", "labelOffset": 11, "columnPadding": 20,
   "titleFont": "Liberation Serif", "titleFontSize": 26, "titleFontWeight": "normal", "titleColor": "black", "titlePadding": 14, "titleBaseline": "middle", "titleAnchor": "middle"}
}
}
